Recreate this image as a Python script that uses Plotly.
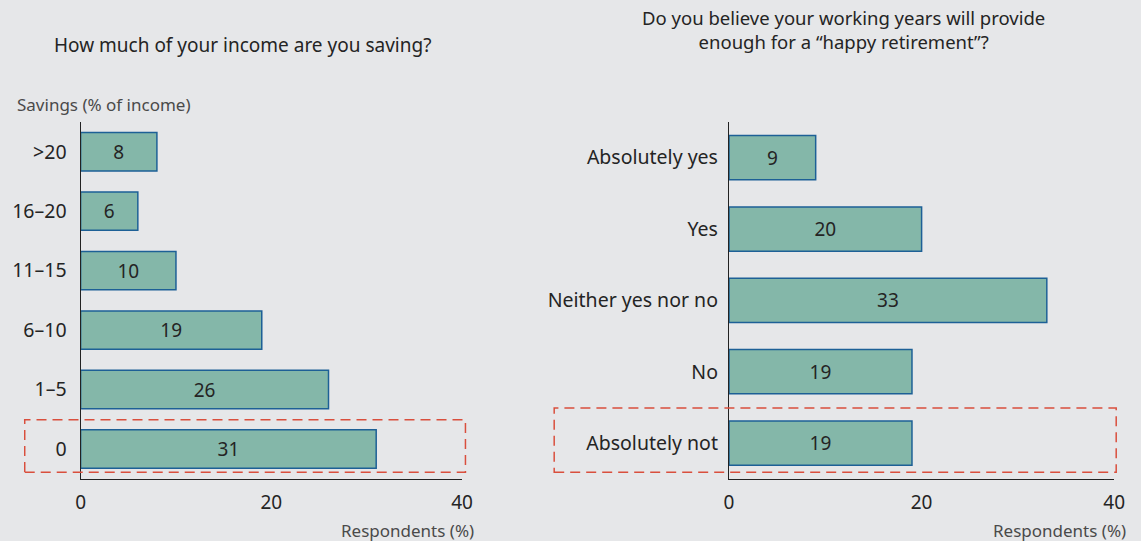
import plotly.graph_objects as go

# Data
savings_cats = ["0", "1–5", "6–10", "11–15", "16–20", ">20"]
savings_vals = [31, 26, 19, 10, 6, 8]
retire_cats = ["Absolutely not", "No", "Neither yes nor no", "Yes", "Absolutely yes"]
retire_vals = [19, 19, 33, 20, 9]
x_ticks = [0, 20, 40]

BG = "#e6e7e9"
BAR = "#84b7a9"
EDGE = "#1d6096"
TXT = "#242424"
GRAY = "#4a4a4a"
RED = "#d94f3d"
FONT = "Noto Sans"

W, H = 1141, 541
def px(x): return x / W
def py(y): return 1 - y / H

fig = go.Figure()
fig.add_trace(go.Bar(
    x=savings_vals, y=savings_cats, orientation="h",
    marker=dict(color=BAR, line=dict(color=EDGE, width=1.5)),
    width=0.645, text=[str(v) for v in savings_vals],
    textposition="inside", insidetextanchor="middle", textangle=0,
    textfont=dict(size=19, color=TXT, family=FONT),
    xaxis="x", yaxis="y", showlegend=False, hoverinfo="skip"))
fig.add_trace(go.Bar(
    x=retire_vals, y=retire_cats, orientation="h",
    marker=dict(color=BAR, line=dict(color=EDGE, width=1.5)),
    width=0.62, text=[str(v) for v in retire_vals],
    textposition="inside", insidetextanchor="middle", textangle=0,
    textfont=dict(size=19, color=TXT, family=FONT),
    xaxis="x2", yaxis="y2", showlegend=False, hoverinfo="skip"))

ydom = [py(478.7), py(122)]
def xax(d):
    return dict(domain=d, range=[0, 40], tickvals=x_ticks, showgrid=False,
                zeroline=False, showline=True, linecolor="#222", linewidth=1.3,
                ticks="", ticklabelstandoff=6,
                tickfont=dict(size=19, color=TXT, family=FONT))
def yax(standoff):
    return dict(showgrid=False, zeroline=False, showline=True, linecolor="#222",
                linewidth=1.3, ticks="", ticklabelstandoff=standoff,
                tickfont=dict(size=19.5, color=TXT, family=FONT))

fig.update_layout(
    width=W, height=H, margin=dict(l=0, r=0, t=0, b=0),
    paper_bgcolor=BG, plot_bgcolor=BG,
    font=dict(family=FONT, color=TXT),
    xaxis=dict(anchor="y", **xax([px(76.7), px(463.5)])),
    yaxis=dict(domain=ydom, anchor="x", range=[-0.5, 5.5],
               categoryorder="array", categoryarray=savings_cats, **yax(9)),
    xaxis2=dict(anchor="y2", **xax([px(734.3), px(1125)])),
    yaxis2=dict(domain=ydom, anchor="x2", range=[-0.5, 4.5],
                categoryorder="array", categoryarray=retire_cats, **yax(6)),
)

annos = [
    dict(text="How much of your income are you saving?", x=px(241), y=py(45),
         xanchor="center", yanchor="middle", font=dict(size=19, color=TXT)),
    dict(text="Do you believe your working years will provide<br>enough for a “happy retirement”?",
         x=px(850), y=py(29), xanchor="center", yanchor="middle",
         font=dict(size=18.5, color=TXT)),
    dict(text="Savings (% of income)", x=px(10), y=py(104), xanchor="left",
         yanchor="middle", font=dict(size=17, color=GRAY)),
    dict(text="Respondents (%)", x=px(478), y=py(530), xanchor="right",
         yanchor="middle", font=dict(size=17, color=GRAY)),
    dict(text="Respondents (%)", x=px(1139), y=py(530), xanchor="right",
         yanchor="middle", font=dict(size=17, color=GRAY)),
]
for a in annos:
    a.update(xref="paper", yref="paper", showarrow=False)
    fig.add_annotation(**a)

fig.add_shape(type="rect", xref="paper", yref="y", x0=px(20), x1=px(467),
              y0=-0.39, y1=0.49, line=dict(color=RED, width=1.5, dash="10px,6px"),
              fillcolor="rgba(0,0,0,0)")
fig.add_shape(type="rect", xref="paper", yref="y2", x0=px(557), x1=px(1127),
              y0=-0.41, y1=0.49, line=dict(color=RED, width=1.5, dash="10px,6px"),
              fillcolor="rgba(0,0,0,0)")

fig.write_html("out.html")
